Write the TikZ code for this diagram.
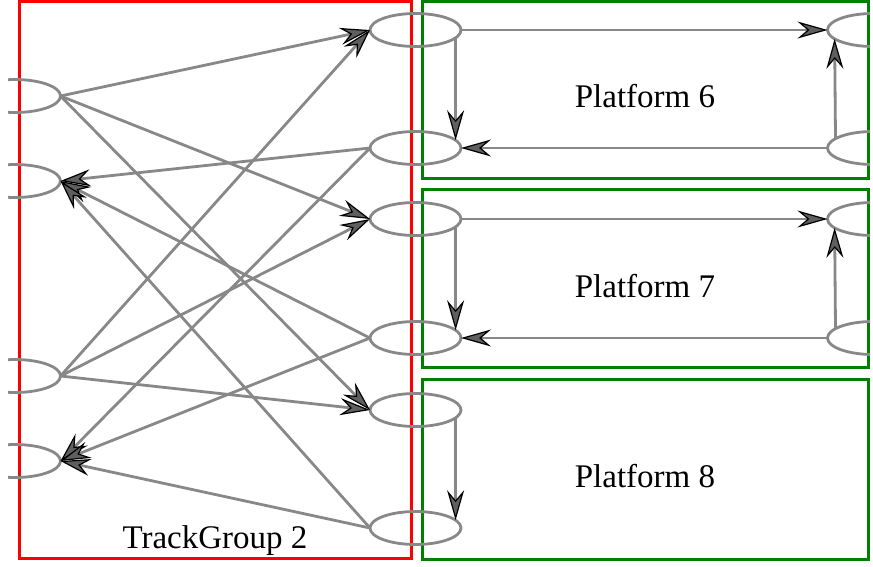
\documentclass[tikz,border=0pt]{standalone}
\usepackage{fontspec}
\setmainfont{Liberation Serif}
\usetikzlibrary{shapes.geometric,arrows.meta}
\definecolor{edgegray}{RGB}{136,136,136}
\definecolor{boxgreen}{RGB}{0,128,0}
\definecolor{boxred}{RGB}{255,0,0}
\begin{document}
\begin{tikzpicture}[x=1pt,y=-1pt,
  st/.style={draw=edgegray, line width=2.8pt, ellipse, minimum width=91pt, minimum height=33pt, inner sep=0pt, outer sep=0pt},
  ed/.style={draw=edgegray, line width=2.8pt, -{Stealth[length=30pt,width=17pt,inset=10pt,color=black,fill=edgegray!70!black,line width=1.2pt]}},
  lbl/.style={font=\fontsize{33}{40}\selectfont, anchor=base, inner sep=0pt},
  redbox/.style={draw=boxred, line width=3pt},
  greenbox/.style={draw=boxgreen, line width=3pt}]
\useasboundingbox (0,0) rectangle (873,566);
\clip (8,0) rectangle (870,566);
% clusters
\draw[redbox] (19,1.5) rectangle (411,558);
\draw[greenbox] (422,1.5) rectangle (868,178);
\draw[greenbox] (422,189.5) rectangle (868,367.5);
\draw[greenbox] (422,379.5) rectangle (868,559);
\node[lbl] (t6) at (645,107) {Platform 6};
\node[lbl] (t7) at (645,297) {Platform 7};
\node[lbl] (t8) at (645,487) {Platform 8};
\node[lbl] (tg) at (215,548) {TrackGroup 2};
% nodes
\node[st] (L1) at (15,96) {};
\node[st] (L2) at (15,181) {};
\node[st] (L3) at (15,376) {};
\node[st] (L4) at (15,461) {};
\node[st] (M1) at (415.5,30) {};
\node[st] (M2) at (415.5,148) {};
\node[st] (M3) at (415.5,219) {};
\node[st] (M4) at (415.5,338) {};
\node[st] (M5) at (415.5,410) {};
\node[st] (M6) at (415.5,528) {};
\node[st] (R1) at (873,30) {};
\node[st] (R2) at (873,148) {};
\node[st] (R3) at (873,219) {};
\node[st] (R4) at (873,338) {};
% edges left <-> middle
\foreach \a in {L1,L3}{
  \foreach \b in {M1,M3,M5}{
    \draw[ed] (\a.east) -- (\b.west);
  }
}
\foreach \b in {L2,L4}{
  \foreach \a in {M2,M4,M6}{
    \draw[ed] (\a.west) -- (\b.east);
  }
}
% platform edges
\draw[ed] (M1.east) -- (R1.west);
\draw[ed] (M1.-11.5) -- (M2.11.5);
\draw[ed] (R2.west) -- (M2.east);
\draw[ed] (R2.166.5) -- (R1.193.5);
\draw[ed] (M3.east) -- (R3.west);
\draw[ed] (M3.-11.5) -- (M4.11.5);
\draw[ed] (R4.west) -- (M4.east);
\draw[ed] (R4.166.5) -- (R3.193.5);
\draw[ed] (M5.-11.5) -- (M6.11.5);
\end{tikzpicture}
\end{document}
